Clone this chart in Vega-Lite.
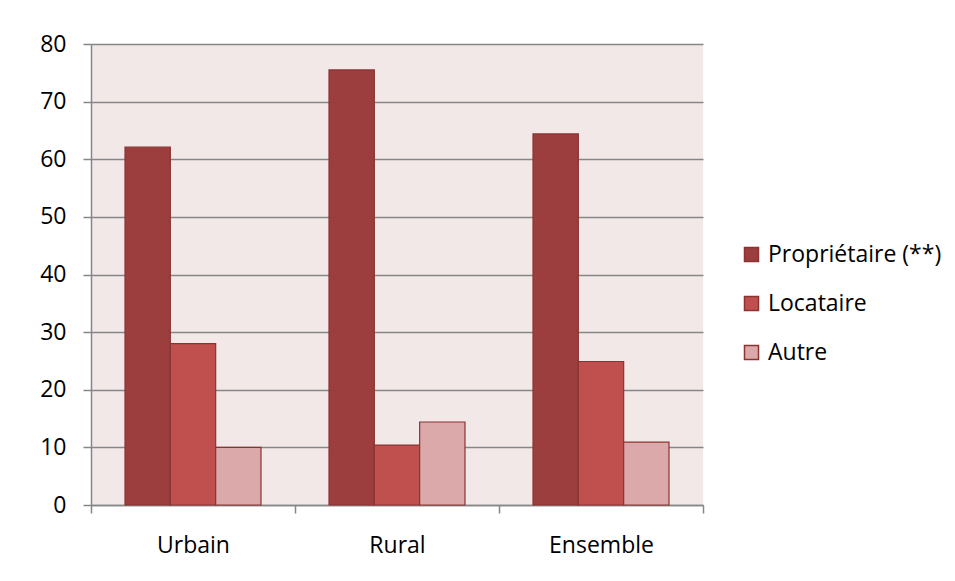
{
  "$schema": "https://vega.github.io/schema/vega-lite/v6.json",
  "autosize": "none",
  "width": 612,
  "height": 461,
  "padding": {"left": 91, "top": 44, "right": 252, "bottom": 76},
  "background": "white",
  "data": {
    "values": [
      {"zone": "Urbain", "statut": "Propriétaire (**)", "valeur": 62.1},
      {"zone": "Urbain", "statut": "Locataire", "valeur": 28.0},
      {"zone": "Urbain", "statut": "Autre", "valeur": 10.0},
      {"zone": "Rural", "statut": "Propriétaire (**)", "valeur": 75.5},
      {"zone": "Rural", "statut": "Locataire", "valeur": 10.4},
      {"zone": "Rural", "statut": "Autre", "valeur": 14.4},
      {"zone": "Ensemble", "statut": "Propriétaire (**)", "valeur": 64.4},
      {"zone": "Ensemble", "statut": "Locataire", "valeur": 24.9},
      {"zone": "Ensemble", "statut": "Autre", "valeur": 10.9}
    ]
  },
  "mark": {"type": "bar", "stroke": "#8A3432", "strokeWidth": 1.2},
  "encoding": {
    "x": {
      "field": "zone",
      "type": "nominal",
      "sort": ["Urbain", "Rural", "Ensemble"],
      "scale": {"paddingInner": 0, "paddingOuter": 0},
      "axis": {
        "title": null,
        "labelAngle": 0,
        "tickBand": "extent",
        "tickSize": 8,
        "tickColor": "#868686",
        "tickWidth": 1.5,
        "domainColor": "#868686",
        "domainWidth": 1.5,
        "labelPadding": 21,
        "labelFont": "Open Sans",
        "labelFontSize": 23,
        "labelColor": "#000000"
      }
    },
    "xOffset": {
      "field": "statut",
      "sort": ["Propriétaire (**)", "Locataire", "Autre"],
      "scale": {"paddingInner": 0, "paddingOuter": 0.75}
    },
    "y": {
      "field": "valeur",
      "type": "quantitative",
      "scale": {"domain": [0, 80], "nice": false},
      "axis": {
        "title": null,
        "values": [0, 10, 20, 30, 40, 50, 60, 70, 80],
        "tickSize": 8,
        "tickColor": "#868686",
        "tickWidth": 1.5,
        "domainColor": "#868686",
        "domainWidth": 1.5,
        "gridColor": "#868686",
        "gridWidth": 1.5,
        "gridOpacity": 1,
        "labelPadding": 17,
        "labelFont": "Open Sans",
        "labelFontSize": 23,
        "labelColor": "#000000"
      }
    },
    "fill": {
      "field": "statut",
      "type": "nominal",
      "sort": ["Propriétaire (**)", "Locataire", "Autre"],
      "scale": {
        "domain": ["Propriétaire (**)", "Locataire", "Autre"],
        "range": ["#9B3E3D", "#C0504D", "#DBA9A9"]
      },
      "legend": {
        "title": null,
        "orient": "none",
        "legendX": 649,
        "legendY": 199,
        "padding": 0,
        "symbolType": "square",
        "symbolSize": 196,
        "symbolStrokeColor": "#8A3432",
        "symbolStrokeWidth": 1.5,
        "labelFont": "Open Sans",
        "labelFontSize": 23,
        "labelColor": "#000000",
        "labelLimit": 400,
        "labelOffset": 5,
        "rowPadding": 25
      }
    }
  },
  "config": {
    "view": {"fill": "#F2E8E8", "stroke": null}
  }
}
